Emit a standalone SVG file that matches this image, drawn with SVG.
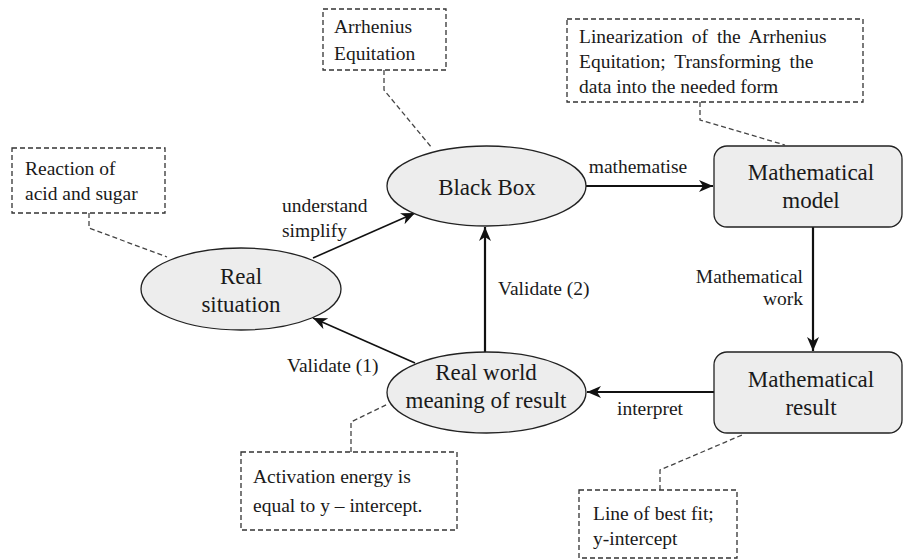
<svg xmlns="http://www.w3.org/2000/svg" width="904" height="559" viewBox="0 0 904 559" font-family="'Liberation Serif', 'DejaVu Serif', serif">
<defs>
<style>
text{font-family:'Liberation Serif','DejaVu Serif',serif;fill:#1a1a1a}
.node{fill:#ededed;stroke:#222;stroke-width:1.3}
.nt{font-size:23px;text-anchor:middle}
.lbl{font-size:19.5px}
.note rect{fill:#fff;stroke:#333;stroke-width:1.3;stroke-dasharray:5,3}
.note text{font-size:19.5px}
.lead{fill:none;stroke:#444;stroke-width:1.3;stroke-dasharray:5,3}
.arr{fill:none;stroke:#111;marker-end:url(#ah)}
</style>
<marker id="ah" markerUnits="userSpaceOnUse" markerWidth="16" markerHeight="14" refX="14" refY="6" orient="auto">
<path d="M0,0 L14,6 L0,12 L4,6 z" fill="#111"/>
</marker>
</defs>
<rect width="904" height="559" fill="#fff"/>

<g id="connectors">
<line class="arr" x1="313" y1="258" x2="415" y2="213" stroke-width="1.6"/>
<line class="arr" x1="586" y1="186" x2="713" y2="186" stroke-width="2.2"/>
<line class="arr" x1="813" y1="227" x2="813" y2="351" stroke-width="2.2"/>
<line class="arr" x1="714" y1="392" x2="587" y2="392" stroke-width="2.2"/>
<line class="arr" x1="485" y1="352" x2="485" y2="227" stroke-width="2.2"/>
<line class="arr" x1="415" y1="363" x2="313" y2="318" stroke-width="1.6"/>
<polyline class="lead" points="89,213 89,228 167,257"/>
<polyline class="lead" points="384,70 384,90 432,148"/>
<polyline class="lead" points="700,102 700,120 785,145"/>
<polyline class="lead" points="660,490 660,470 742,435"/>
<polyline class="lead" points="351,452 351,422 388,404"/>
<text class="lbl" x="282" y="212">understand</text>
<text class="lbl" x="282" y="237">simplify</text>
<text class="lbl" x="638" y="173" text-anchor="middle">mathematise</text>
<text class="lbl" x="803" y="283" text-anchor="end">Mathematical</text>
<text class="lbl" x="803" y="305" text-anchor="end">work</text>
<text class="lbl" x="650" y="415" text-anchor="middle">interpret</text>
<text class="lbl" x="498" y="295">Validate (2)</text>
<text class="lbl" x="287" y="372">Validate (1)</text>
</g>

<g id="real-situation">
<ellipse class="node" cx="241" cy="289" rx="100" ry="41"/>
<text class="nt" x="241" y="284">Real</text>
<text class="nt" x="241" y="312">situation</text>
</g>
<g id="black-box">
<ellipse class="node" cx="486.5" cy="186" rx="99.5" ry="40"/>
<text class="nt" x="487" y="195">Black Box</text>
</g>
<g id="mathematical-model">
<rect class="node" x="714" y="146" width="188" height="81" rx="13"/>
<text class="nt" x="811" y="180">Mathematical</text>
<text class="nt" x="811" y="208">model</text>
</g>
<g id="mathematical-result">
<rect class="node" x="714" y="352" width="188" height="81" rx="13"/>
<text class="nt" x="811" y="387">Mathematical</text>
<text class="nt" x="811" y="415">result</text>
</g>
<g id="real-world">
<ellipse class="node" cx="486.5" cy="392.5" rx="99.5" ry="40.5"/>
<text class="nt" x="486" y="380">Real world</text>
<text class="nt" x="486" y="408">meaning of result</text>
</g>

<g id="note-reaction" class="note">
<rect x="12" y="148" width="153" height="65"/>
<text x="25" y="175">Reaction of</text>
<text x="25" y="200">acid and sugar</text>
</g>
<g id="note-arrhenius" class="note">
<rect x="323" y="9" width="123" height="61"/>
<text x="334" y="33">Arrhenius</text>
<text x="334" y="60">Equitation</text>
</g>
<g id="note-linearization" class="note">
<rect x="567" y="19" width="296" height="83"/>
<text x="579" y="43" word-spacing="4">Linearization of the Arrhenius</text>
<text x="579" y="68" word-spacing="4">Equitation; Transforming the</text>
<text x="579" y="93">data into the needed form</text>
</g>
<g id="note-best-fit" class="note">
<rect x="579" y="490" width="158" height="68"/>
<text x="593" y="520">Line of best fit;</text>
<text x="593" y="545">y-intercept</text>
</g>
<g id="note-activation" class="note">
<rect x="241" y="452" width="216" height="78"/>
<text x="253" y="483">Activation energy is</text>
<text x="253" y="512">equal to y – intercept.</text>
</g>
</svg>
